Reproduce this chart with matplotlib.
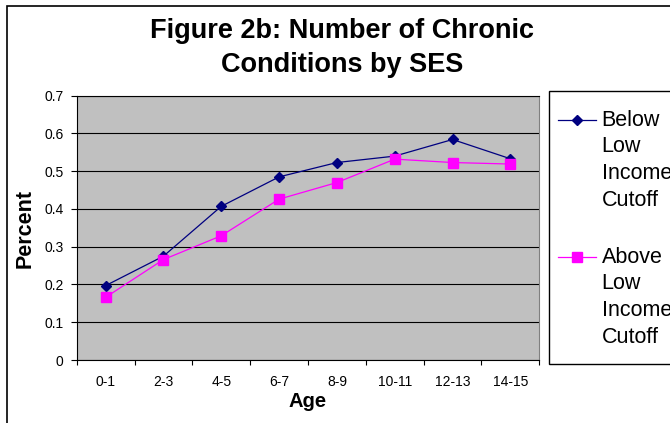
import matplotlib
matplotlib.use("agg")
import matplotlib.pyplot as plt
from matplotlib.patches import Rectangle
from matplotlib.lines import Line2D

plt.rcParams["font.family"] = ["Liberation Sans", "DejaVu Sans"]

# data
ages = ["0-1", "2-3", "4-5", "6-7", "8-9", "10-11", "12-13", "14-15"]
below_lico = [0.197, 0.275, 0.407, 0.485, 0.523, 0.540, 0.584, 0.533]
above_lico = [0.166, 0.266, 0.329, 0.426, 0.470, 0.532, 0.523, 0.519]
series_names = ["Below Low Income Cutoff", "Above Low Income Cutoff"]
y_ticks = [0, 0.1, 0.2, 0.3, 0.4, 0.5, 0.6, 0.7]

W, H = 670, 423
NAVY = "#000080"
MAGENTA = "#FF00FF"

fig = plt.figure(figsize=(W / 100, H / 100), dpi=100)

# outer chart border (right/bottom run off the picture)
fig.patches.append(Rectangle((6.5 / W, -0.1), 1.0, 1 - 6.5 / H + 0.1,
                             transform=fig.transFigure, fill=False,
                             edgecolor="black", linewidth=1.2))

ax = fig.add_axes([76.7 / W, 1 - 360 / H, (539.3 - 76.7) / W, (360 - 95.7) / H])
ax.set_facecolor("#C0C0C0")

x = list(range(len(ages)))
ax.plot(x, below_lico, color=NAVY, lw=0.9, marker="D", ms=4.8,
        markerfacecolor=NAVY, markeredgecolor=NAVY, zorder=3)
ax.plot(x, above_lico, color=MAGENTA, lw=0.9, marker="s", ms=6.5,
        markerfacecolor=MAGENTA, markeredgecolor=MAGENTA, zorder=3)

ax.set_xlim(-0.5, len(ages) - 0.5)
ax.set_ylim(0, 0.7)
ax.set_yticks(y_ticks)
ax.set_yticklabels(["0" if v == 0 else f"{v:.1f}" for v in y_ticks])
ax.yaxis.grid(True, color="black", lw=0.8)
ax.set_axisbelow(True)
ax.tick_params(axis="y", direction="out", length=4.5, width=0.8,
               labelsize=10, pad=5)

ax.set_xticks(x)
ax.set_xticklabels(ages)
ax.set_xticks([i - 0.5 for i in range(len(ages) + 1)], minor=True)
ax.tick_params(axis="x", which="major", length=0, labelsize=10, pad=11)
ax.tick_params(axis="x", which="minor", direction="out", length=3.5, width=0.8)

for side in ["left", "bottom", "top"]:
    ax.spines[side].set_color("black")
    ax.spines[side].set_linewidth(0.8)
ax.spines["right"].set_color("#808080")
ax.spines["right"].set_linewidth(0.8)

ax.set_xlabel("Age", fontsize=14.5, fontweight="bold", labelpad=2)
fig.text(25 / W, 1 - 228 / H, "Percent", rotation=90, fontsize=15.5,
         fontweight="bold", ha="center", va="center")

fig.text(0.511, 1 - 38 / H, "Figure 2b: Number of Chronic", fontsize=19.5,
         fontweight="bold", ha="center", va="baseline")
fig.text(0.511, 1 - 71.7 / H, "Conditions by SES", fontsize=19.5,
         fontweight="bold", ha="center", va="baseline")

# legend box, drawn by hand so wrapped labels sit like the original
fig.patches.append(Rectangle((549 / W, 1 - 364 / H), 0.5, (364 - 91) / H,
                             transform=fig.transFigure, facecolor="white",
                             edgecolor="black", linewidth=1.0))
entries = [(series_names[0], NAVY, "D", 4.8, 125.7),
           (series_names[1], MAGENTA, "s", 6.5, 262.7)]
for name, col, mk, ms, base in entries:
    ym = 1 - (base - 5.5) / H
    fig.lines.append(Line2D([557.7 / W, 595.7 / W], [ym, ym],
                            transform=fig.transFigure, color=col, lw=0.9))
    fig.lines.append(Line2D([576.7 / W], [ym], transform=fig.transFigure,
                            marker=mk, ms=ms, color=col, lw=0))
    for k, word in enumerate(name.split()):
        fig.text(601.7 / W, 1 - (base + k * 26.6) / H, word, fontsize=15.5,
                 ha="left", va="baseline")

fig.savefig("out.png", dpi=100)
